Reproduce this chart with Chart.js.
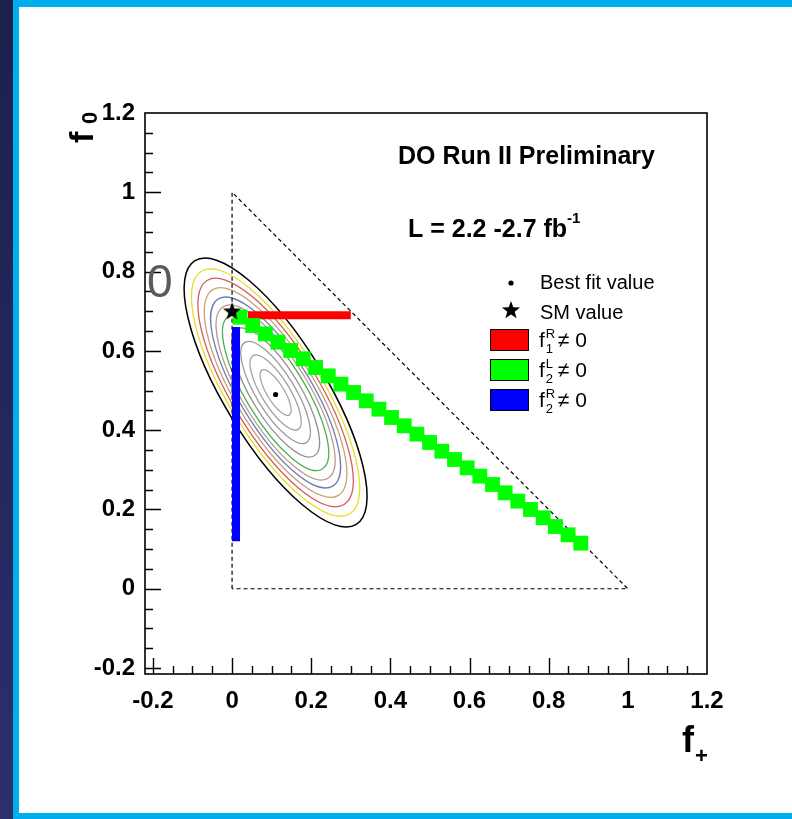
<!DOCTYPE html>
<html>
<head>
<meta charset="utf-8">
<script src="https://cdn.jsdelivr.net/npm/chart.js@4/dist/chart.umd.min.js"></script>
<style>
  html, body { margin: 0; padding: 0; }
  body { width: 792px; height: 819px; position: relative; overflow: hidden;
         background: linear-gradient(#1d1f4c, #2c2f6c); }
  #border { position: absolute; left: 13px; top: 0; width: 779px; height: 819px; background: #00aeef; }
  #sheet { position: absolute; left: 19px; top: 7px; width: 773px; height: 806px; background: #fff; }
  #wrap { position: absolute; left: 0; top: 0; width: 792px; height: 819px; }
</style>
</head>
<body>
<div id="border"></div>
<div id="sheet"></div>
<div id="wrap"><canvas id="chart"></canvas></div>
<script>
// axis ticks
const xTicks = [-0.2, 0, 0.2, 0.4, 0.6, 0.8, 1, 1.2];
const xTickLabels = ['-0.2', '0', '0.2', '0.4', '0.6', '0.8', '1', '1.2'];
const yTicks = [-0.2, 0, 0.2, 0.4, 0.6, 0.8, 1, 1.2];
const yTickLabels = ['-0.2', '0', '0.2', '0.4', '0.6', '0.8', '1', '1.2'];

// physical region (dashed triangle)
const triFplus = [0, 0, 1, 0];
const triF0 = [0, 1, 0, 0];

// best fit and SM points
const bestFit = [0.11, 0.49];
const smValue = [0.0, 0.70];

// f1R != 0 (red), f2R != 0 (blue)
const f1RFplus = [0.04, 0.30];
const f1RF0 = [0.69, 0.69];
const f2RFplus = [0.01, 0.01];
const f2RF0 = [0.12, 0.66];

// f2L != 0 (green boxes)
const f2LFplus = [0.020, 0.052, 0.084, 0.116, 0.148, 0.180, 0.211, 0.243, 0.275, 0.307,
                  0.339, 0.371, 0.403, 0.435, 0.467, 0.499, 0.530, 0.562, 0.594, 0.626,
                  0.658, 0.690, 0.722, 0.754, 0.786, 0.817, 0.849, 0.881];
const f2LF0 = [0.685, 0.664, 0.643, 0.622, 0.601, 0.580, 0.558, 0.537, 0.516, 0.495,
               0.474, 0.453, 0.432, 0.411, 0.390, 0.369, 0.347, 0.326, 0.305, 0.284,
               0.263, 0.242, 0.221, 0.200, 0.179, 0.157, 0.136, 0.115];

// likelihood contours (ellipses)
const contourCenter = [0.11, 0.495];
const contourAxes = [0.39, 0.128];   // outer semi-axes
const contourAngle = -58.5;          // degrees, data space
const contourScales = [1.0, 0.92, 0.85, 0.78, 0.71, 0.65, 0.58, 0.48, 0.38, 0.28, 0.17];
const contourColors = ['#000000', '#e6df2a', '#d35b5b', '#c9a274', '#6f7db5', '#b8998a',
                       '#4eae4e', '#8e8e8e', '#9c9c9c', '#a5a0a0', '#a8a2a2'];

const FONT = "'Liberation Sans', Arial, sans-serif";

function pts(xs, ys) { return xs.map((x, i) => ({x: x, y: ys[i]})); }

// filled star marker
const starImg = document.createElement('canvas');
starImg.width = 22; starImg.height = 22;
(function() {
  const c = starImg.getContext('2d');
  c.beginPath();
  for (let i = 0; i < 10; i++) {
    const r = i % 2 ? 3.9 : 9.5;
    const a = -Math.PI / 2 + i * Math.PI / 5;
    c.lineTo(11 + r * Math.cos(a), 11.5 + r * Math.sin(a));
  }
  c.closePath();
  c.fillStyle = '#000';
  c.fill();
})();

function drawFsub(ctx, x, y, sup, sub, size) {
  ctx.font = size + 'px ' + FONT;
  ctx.fillText('f', x, y);
  const w = ctx.measureText('f').width;
  ctx.font = Math.round(size * 0.62) + 'px ' + FONT;
  if (sup) ctx.fillText(sup, x + w + 1, y - size * 0.42);
  if (sub) ctx.fillText(sub, x + w + 1, y + size * 0.3);
  ctx.font = size + 'px ' + FONT;
  ctx.fillText('\u2260 0', x + w + 13, y);
}

const paperPlugin = {
  id: 'paper',
  beforeDatasetsDraw(chart) {
    const ctx = chart.ctx, xs = chart.scales.x, ys = chart.scales.y;
    const cx = xs.getPixelForValue(contourCenter[0]);
    const cy = ys.getPixelForValue(contourCenter[1]);
    const sx = xs.getPixelForValue(1) - xs.getPixelForValue(0);
    const sy = ys.getPixelForValue(0) - ys.getPixelForValue(1);
    contourScales.forEach((k, i) => {
      ctx.save();
      ctx.translate(cx, cy);
      ctx.scale(sx, -sy);
      ctx.rotate(contourAngle * Math.PI / 180);
      ctx.beginPath();
      ctx.ellipse(0, 0, contourAxes[0] * k, contourAxes[1] * k, 0, 0, Math.PI * 2);
      ctx.restore();
      ctx.strokeStyle = contourColors[i];
      ctx.lineWidth = i === 0 ? 1.5 : 1.3;
      ctx.stroke();
    });
  },
  afterDatasetsDraw(chart) {
    const ctx = chart.ctx, a = chart.chartArea, xs = chart.scales.x, ys = chart.scales.y;
    ctx.save();
    ctx.strokeStyle = '#000';
    ctx.lineWidth = 1.6;
    ctx.strokeRect(a.left, a.top, a.right - a.left, a.bottom - a.top);
    ctx.lineWidth = 1.4;
    ctx.beginPath();
    for (let i = -4; i <= 24; i++) {
      const v = i * 0.05;
      const len = i % 4 === 0 ? 16 : 8;
      if (v >= xs.min && v <= xs.max) {
        const px = Math.round(xs.getPixelForValue(v)) + 0.5;
        ctx.moveTo(px, a.bottom); ctx.lineTo(px, a.bottom - len);
      }
      if (v >= ys.min && v <= ys.max) {
        const py = Math.round(ys.getPixelForValue(v)) + 0.5;
        ctx.moveTo(a.left, py); ctx.lineTo(a.left + len, py);
      }
    }
    ctx.stroke();
    ctx.restore();
  },
  afterDraw(chart) {
    const ctx = chart.ctx;
    ctx.save();
    ctx.fillStyle = '#000';
    ctx.textBaseline = 'alphabetic';
    // header texts
    ctx.font = 'bold 25px ' + FONT;
    ctx.fillText('DO Run II Preliminary', 398, 164);
    ctx.fillText('L = 2.2 -2.7 fb', 408, 237);
    const lw = ctx.measureText('L = 2.2 -2.7 fb').width;
    ctx.font = 'bold 15px ' + FONT;
    ctx.fillText('-1', 408 + lw, 223);
    // legend
    ctx.beginPath();
    ctx.arc(511, 283, 2.6, 0, Math.PI * 2);
    ctx.fill();
    ctx.drawImage(starImg, 500, 299);
    ctx.font = '20px ' + FONT;
    ctx.fillText('Best fit value', 540, 289);
    ctx.fillText('SM value', 540, 319);
    const boxes = [['#ff0000', 'R', '1', 329], ['#00ff00', 'L', '2', 359], ['#0000ff', 'R', '2', 389]];
    boxes.forEach(b => {
      ctx.fillStyle = b[0];
      ctx.fillRect(490, b[3], 38, 21);
      ctx.strokeStyle = '#000';
      ctx.lineWidth = 1;
      ctx.strokeRect(490.5, b[3] + 0.5, 38, 21);
      ctx.fillStyle = '#000';
      drawFsub(ctx, 539, b[3] + 18, b[1], b[2], 21);
    });
    // axis titles
    ctx.font = 'bold 36px ' + FONT;
    ctx.fillText('f', 682, 752);
    ctx.font = 'bold 22px ' + FONT;
    ctx.fillText('+', 695, 763);
    ctx.save();
    ctx.translate(93, 143);
    ctx.rotate(-Math.PI / 2);
    ctx.font = 'bold 34px ' + FONT;
    ctx.fillText('f', 0, 0);
    ctx.font = 'bold 22px ' + FONT;
    ctx.fillText('0', 19, 4);
    ctx.restore();
    // stray slide label
    ctx.fillStyle = '#5a5a5a';
    ctx.font = '46px ' + FONT;
    ctx.fillText('0', 147, 297);
    ctx.restore();
  }
};

new Chart(document.getElementById('chart'), {
  type: 'scatter',
  data: {
    datasets: [
      { label: 'triangle', data: pts(triFplus, triF0), showLine: true, pointRadius: 0,
        borderColor: '#000', borderWidth: 1.2, borderDash: [4, 3], order: 7 },
      { label: 'f2R', data: pts(f2RFplus, f2RF0), showLine: true, pointRadius: 0,
        borderColor: '#0000ff', borderWidth: 8, borderCapStyle: 'butt', order: 6 },
      { label: 'f1R', data: pts(f1RFplus, f1RF0), showLine: true, pointRadius: 0,
        borderColor: '#ff0000', borderWidth: 8, borderCapStyle: 'butt', order: 5 },
      { label: 'f2L', data: pts(f2LFplus, f2LF0), showLine: false, pointStyle: 'rect',
        pointRadius: 10.5, backgroundColor: '#00ff00', borderWidth: 0, order: 4 },
      { label: 'Best fit', data: [{x: bestFit[0], y: bestFit[1]}], pointRadius: 2.6,
        backgroundColor: '#000', borderWidth: 0, order: 2 },
      { label: 'SM', data: [{x: smValue[0], y: smValue[1]}], pointStyle: starImg, order: 1 }
    ]
  },
  options: {
    responsive: true,
    maintainAspectRatio: false,
    animation: false,
    events: [],
    layout: { padding: { left: 0, top: 113, right: 85, bottom: 0 } },
    plugins: { legend: { display: false }, tooltip: { enabled: false } },
    scales: {
      x: {
        type: 'linear', min: -0.22, max: 1.2,
        grid: { display: false }, border: { display: false },
        afterBuildTicks: s => { s.ticks = xTicks.map(v => ({value: v})); },
        afterFit: s => { s.height = 145; },
        ticks: {
          callback: (v, i) => xTickLabels[i],
          autoSkip: false, maxRotation: 0, padding: 5, color: '#000',
          font: { family: FONT, size: 24, weight: 'bold' }
        }
      },
      y: {
        type: 'linear', min: -0.215, max: 1.2,
        grid: { display: false }, border: { display: false },
        afterBuildTicks: s => { s.ticks = yTicks.map(v => ({value: v})); },
        afterFit: s => { s.width = 145; },
        ticks: {
          callback: (v, i) => yTickLabels[i],
          autoSkip: false, padding: 2, color: '#000',
          font: { family: FONT, size: 24, weight: 'bold' }
        }
      }
    }
  },
  plugins: [paperPlugin]
});
</script>
</body>
</html>
